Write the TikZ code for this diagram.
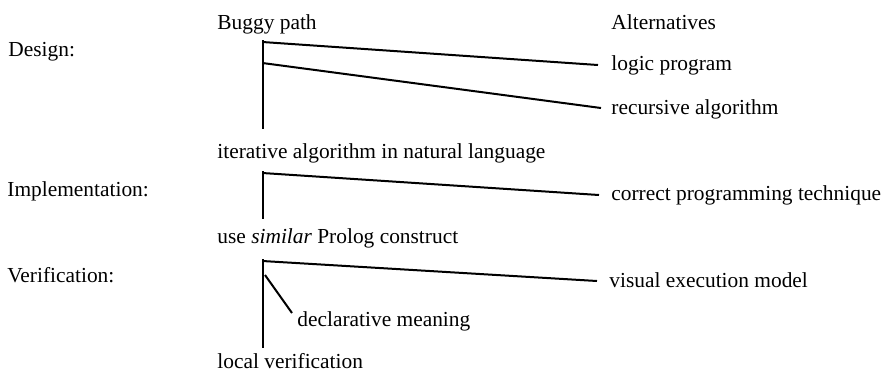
\documentclass[tikz,border=0pt]{standalone}
\usepackage{fontspec}
\setmainfont{Liberation Serif}
\begin{document}
\begin{tikzpicture}[x=0.5pt,y=-0.5pt,
  lbl/.style={anchor=base west,inner sep=0pt,font=\fontsize{10.7}{12}\selectfont},
  ln/.style={line width=1pt}]
\useasboundingbox (0,0) rectangle (884,372);
\node[lbl] (bp) at (217,29) {Buggy path};
\node[lbl] (alt) at (611,29) {Alternatives};
\node[lbl] (des) at (8,56) {Design:};
\node[lbl] (lp) at (611,70) {logic program};
\node[lbl] (ra) at (611,114) {recursive algorithm};
\node[lbl] (ia) at (217,158) {iterative algorithm in natural language};
\node[lbl] (imp) at (7,196) {Implementation:};
\node[lbl] (cpt) at (611,200) {correct programming technique};
\node[lbl] (usp) at (217,243) {use \textit{similar} Prolog construct};
\node[lbl] (ver) at (7,282) {Verification:};
\node[lbl] (vem) at (609,287) {visual execution model};
\node[lbl] (dm) at (297,326) {declarative meaning};
\node[lbl] (lv) at (217,368) {local verification};
% design
\coordinate (a0) at (262.5,40);
\coordinate (a1) at (262.5,42);
\coordinate (a2) at (262.5,63);
\coordinate (a3) at (262.5,129);
\coordinate (lpe) at (598,65);
\coordinate (rae) at (601,108);
\draw[ln] (a0) -- (a3);
\draw[ln] (a1) -- (lpe);
\draw[ln] (a2) -- (rae);
% implementation
\coordinate (b0) at (262.5,171);
\coordinate (b1) at (262.5,173);
\coordinate (b3) at (262.5,219);
\coordinate (cpte) at (599,195);
\draw[ln] (b0) -- (b3);
\draw[ln] (b1) -- (cpte);
% verification
\coordinate (c0) at (262.5,259);
\coordinate (c1) at (262.5,261);
\coordinate (c2) at (265,275);
\coordinate (c3) at (262.5,348);
\coordinate (veme) at (597,281);
\coordinate (dme) at (292,313);
\draw[ln] (c0) -- (c3);
\draw[ln] (c1) -- (veme);
\draw[ln] (c2) -- (dme);
\end{tikzpicture}
\end{document}
